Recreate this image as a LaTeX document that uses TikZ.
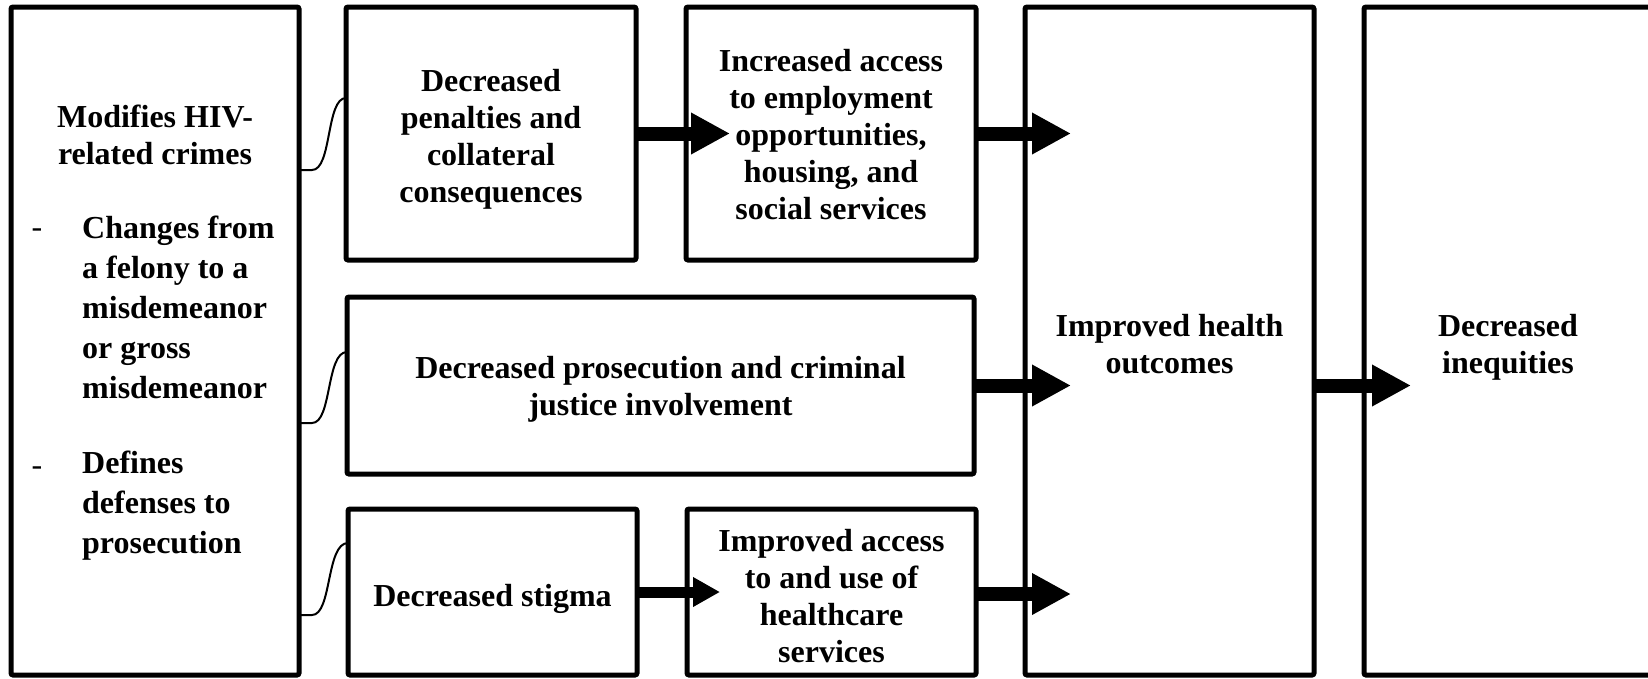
\documentclass[tikz,border=0pt]{standalone}
\usepackage{fontspec}
\setmainfont{Liberation Serif}
\usetikzlibrary{arrows.meta}
\begin{document}
\begin{tikzpicture}[x=1pt,y=-1pt,
 box/.style={draw, line width=5pt, rounded corners=2pt, outer sep=0pt, inner sep=0pt},
 txt/.style={inner sep=0pt, align=center, font=\fontsize{32}{37}\selectfont\bfseries},
 listtxt/.style={inner sep=0pt, align=left, anchor=west, font=\fontsize{32}{40}\selectfont\bfseries},
 dashmark/.style={inner sep=0pt, font=\fontsize{32}{37}\selectfont},
 bigarrow/.style={line width=14pt, -{Triangle[length=39pt,width=39pt]}},
 smallarrow/.style={line width=11pt, -{Triangle[length=27pt,width=28pt]}},
 brace/.style={line width=2pt}]
\useasboundingbox (0,0) rectangle (1648,678);
\clip (0,0) rectangle (1648,678);
% boxes
\node[box, minimum width=288pt, minimum height=668pt] (L) at (155,341) {};
\node[box, minimum width=290pt, minimum height=253pt] (b2) at (491,133.5) {};
\node[box, minimum width=290pt, minimum height=253pt] (b3) at (831,133.5) {};
\node[box, minimum width=627pt, minimum height=177pt] (b4) at (660.5,385.5) {};
\node[box, minimum width=289pt, minimum height=166pt] (b5) at (492.5,592) {};
\node[box, minimum width=289pt, minimum height=166pt] (b6) at (831.5,592) {};
\node[box, minimum width=289pt, minimum height=668pt] (b7) at (1169.5,341) {};
\node[box, minimum width=288pt, minimum height=668pt] (b8) at (1508,341) {};
% texts
\node[txt] (t2) at (491,139) {Decreased\\penalties and\\collateral\\consequences};
\node[txt] (t3) at (831,135) {Increased access\\to employment\\opportunities,\\housing, and\\social services};
\node[txt] (t4) at (660.5,389.5) {Decreased prosecution and criminal\\justice involvement};
\node[txt] (t5) at (492.5,599) {Decreased stigma};
\node[txt] (t6) at (831.5,596) {Improved access\\to and use of\\healthcare\\services};
\node[txt] (t7) at (1169.5,344) {Improved health\\outcomes};
\node[txt] (t8) at (1508,347) {Decreased\\inequities};
\node[txt] (tL) at (155,134.5) {Modifies HIV-\\related crimes};
\node[dashmark] (d1) at (37,233) {-};
\node[listtxt] (i1) at (82,307) {Changes from\\a felony to a\\misdemeanor\\or gross\\misdemeanor};
\node[dashmark] (d2) at (37,471) {-};
\node[listtxt] (i2) at (82,506) {Defines\\defenses to\\prosecution};
% braces
\draw[brace] (L.east |- 0,170) -- ++(13,0) .. controls ++(20,0) and (326,98) .. (b2.west |- 0,98);
\draw[brace] (L.east |- 0,423) -- ++(13,0) .. controls ++(20,0) and (326,352) .. (b4.west |- 0,352);
\draw[brace] (L.east |- 0,615) -- ++(13,0) .. controls ++(20,0) and (326,543) .. (b5.west |- 0,543);
% arrows
\draw[bigarrow] (b2.east) -- ([xshift=44pt]b3.west);
\draw[bigarrow] (b3.east) -- ([xshift=46pt]b7.west |- b3.east);
\draw[bigarrow] (b4.east) -- ([xshift=46pt]b7.west |- b4.east);
\draw[bigarrow] ([yshift=-2pt]b6.east) -- ([xshift=46pt,yshift=-2pt]b7.west |- b6.east);
\draw[bigarrow] (b7.east |- b4.east) -- ([xshift=47pt]b8.west |- b4.east);
\draw[smallarrow] (b5.east) -- ([xshift=33pt]b6.west);
\end{tikzpicture}
\end{document}
